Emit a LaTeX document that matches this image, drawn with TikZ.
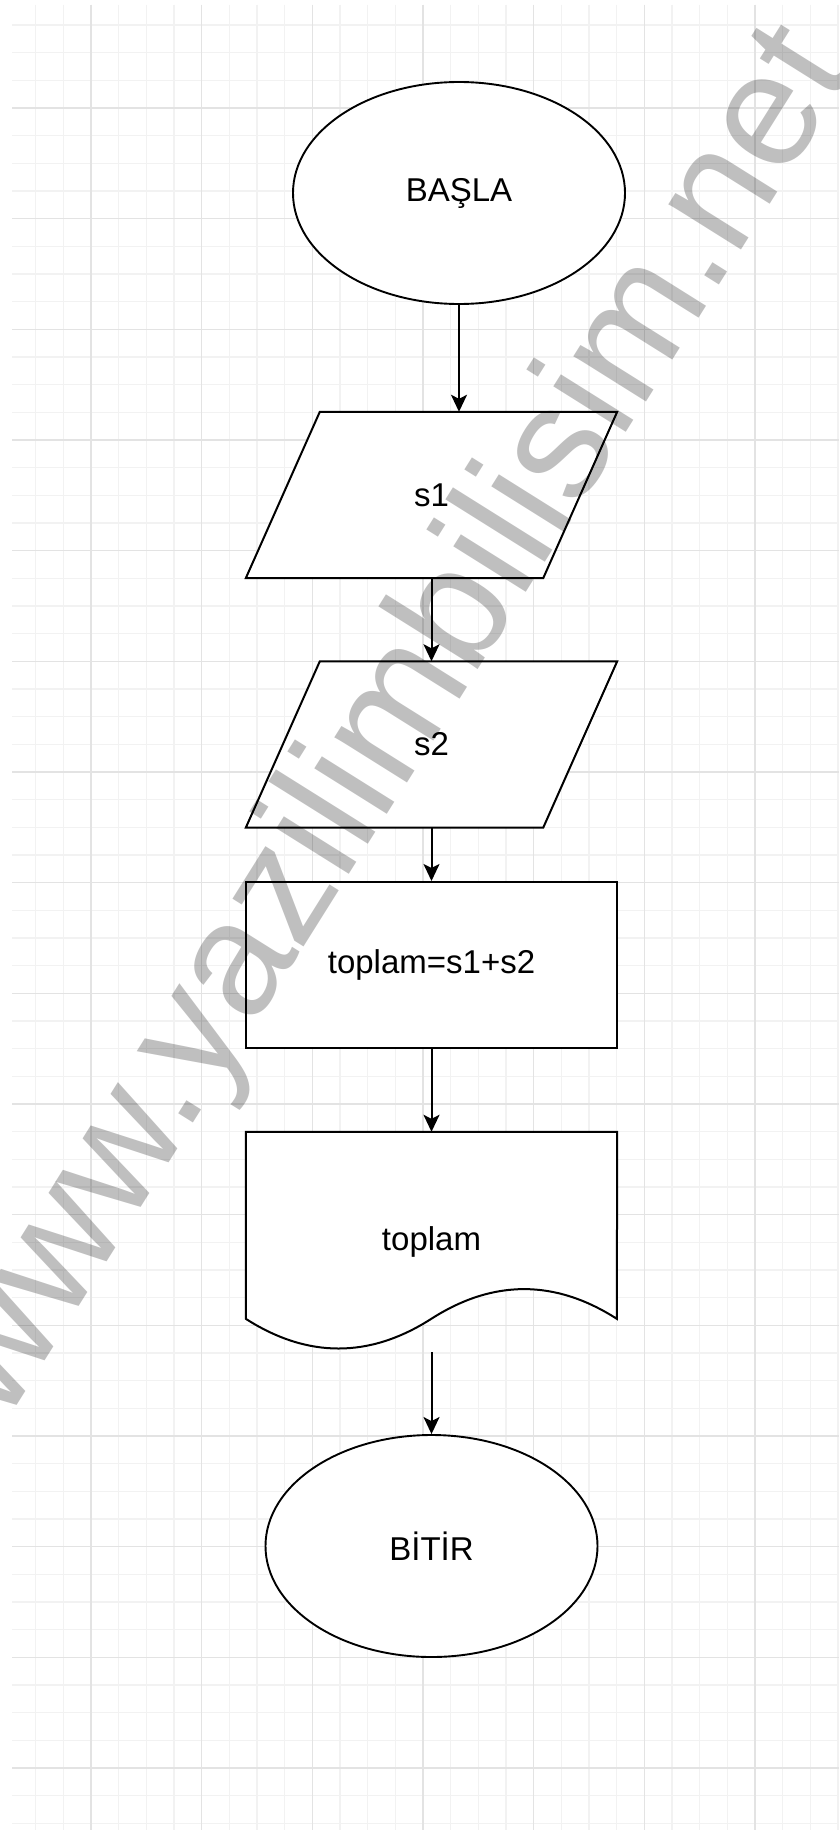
\documentclass[tikz,border=0pt]{standalone}
\usepackage{fontspec}
\setmainfont{Liberation Sans}
\usetikzlibrary{shapes.geometric,arrows.meta,calc}
\pgfdeclarelayer{gridlayer}
\pgfdeclarelayer{shapelayer}
\pgfsetlayers{gridlayer,shapelayer,main}
\begin{document}
\begin{tikzpicture}[x=1pt,y=-1pt,
  lbl/.style={font=\fontsize{33}{40}\selectfont, text=black},
  term/.style={ellipse, draw=black, line width=1.9pt, fill=white, minimum width=332pt, minimum height=222pt, inner sep=0pt, lbl},
  box/.style={rectangle, minimum width=371pt, minimum height=166pt, inner sep=0pt, lbl},
  shp/.style={draw=black, line width=2pt, fill=white, line join=miter},
  flow/.style={draw=black, line width=2pt, -{Stealth[length=17pt,width=16pt,inset=4pt]}},
  minorline/.style={draw=black!5, line width=1.2pt},
  majorline/.style={draw=black!11, line width=1.6pt},
  wm/.style={font=\fontsize{162}{190}\selectfont, text=black, text opacity=0.25, inner sep=0pt, anchor=base west, rotate=57.9}
]
\useasboundingbox (0,0) rectangle (839,1830);
\begin{pgfonlayer}{gridlayer}
  \fill[white] (0,0) rectangle (839,1830);
  \foreach \i in {0,...,29} {\draw[minorline] ({35.67+27.667*\i},5) -- ({35.67+27.667*\i},1830);}
  \foreach \i in {0,...,65} {\draw[minorline] (12,{25+27.667*\i}) -- (839,{25+27.667*\i});}
  \foreach \i in {0,...,6} {\draw[majorline] ({91+110.667*\i},5) -- ({91+110.667*\i},1830);}
  \foreach \i in {0,...,15} {\draw[majorline] (12,{108+110.667*\i}) -- (839,{108+110.667*\i});}
\end{pgfonlayer}

\node[term] (basla) at (459,193) {BAŞLA};
\node[box] (s1) at (431.5,495) {s1};
\node[box] (s2) at (431.5,744.5) {s2};
\node[box, shp] (calc) at (431.5,965) {toplam=s1+s2};
\node[box, minimum height=220pt] (doc) at (431.5,1242) {toplam};
\node[term] (bitir) at (431.5,1546) {BİTİR};

\begin{pgfonlayer}{shapelayer}
  \path[shp] (s1.south west) -- ($(s1.north west)+(74,0)$) -- (s1.north east) -- ($(s1.south east)+(-74,0)$) -- cycle;
  \path[shp] (s2.south west) -- ($(s2.north west)+(74,0)$) -- (s2.north east) -- ($(s2.south east)+(-74,0)$) -- cycle;
  \path[shp] (doc.north west) -- (doc.north east) -- ($(doc.north west)+(371,187)$)
     .. controls ($(doc.north west)+(309.2,147.4)$) and ($(doc.north west)+(247.3,147.4)$) .. ($(doc.north west)+(185.5,187)$)
     .. controls ($(doc.north west)+(123.7,226.6)$) and ($(doc.north west)+(61.8,226.6)$) .. ($(doc.north west)+(0,187)$) -- cycle;
\end{pgfonlayer}

\draw[flow] (basla.south) -- (basla.south |- s1.north);
\draw[flow] (s1.south) -- (s2.north);
\draw[flow] (s2.south) -- (calc.north);
\draw[flow] (calc.south) -- (doc.north);
\draw[flow] (doc.south) -- (bitir.north);

\node[wm] (wmark) at (4,1425.5) {www.yazilimbilisim.net};
\end{tikzpicture}
\end{document}
